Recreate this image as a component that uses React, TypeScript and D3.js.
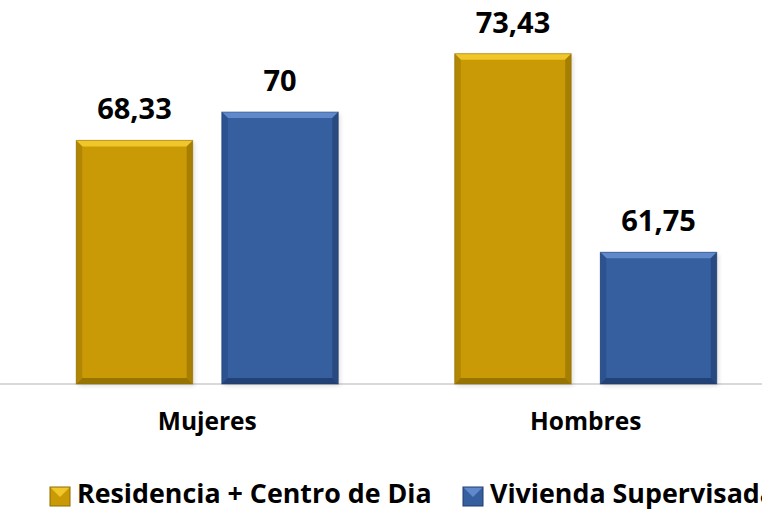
import React from "react";
import { scaleBand, scaleLinear } from "d3";

const categories = ["Mujeres", "Hombres"];
const seriesNames = ["Residencia + Centro de Dia", "Vivienda Supervisada"];
const residencia = [68.33, 73.43];
const vivienda = [70, 61.75];
const valueLabels = [
  ["68,33", "73,43"],
  ["70", "61,75"],
];

const palette = [
  { main: "#C99A05", light: "#F0C62A", dark: "#8E6C00", side: "#B08604" },
  { main: "#365F9F", light: "#5F89CB", dark: "#1F3C6C", side: "#2D5290" },
];

const FONT = "'Open Sans', 'DejaVu Sans', sans-serif";

export default function App() {
  const width = 762;
  const height = 510;
  const baseline = 384;
  const series = [residencia, vivienda];

  const x = scaleBand<string>().domain(categories).range([18, 775]);
  const xInner = scaleBand<number>()
    .domain([0, 1])
    .range([0, x.bandwidth()])
    .paddingInner(0.2)
    .paddingOuter(0.4);
  const y = scaleLinear().domain([54, 76]).range([baseline, 10]);

  const bevel = 6;

  const bar = (cat: string, ci: number, si: number) => {
    const v = series[si][ci];
    const x0 = (x(cat) ?? 0) + (xInner(si) ?? 0);
    const w = xInner.bandwidth();
    const y0 = y(v);
    const x1 = x0 + w;
    const y1 = baseline;
    const c = palette[si];
    const b = bevel;
    return (
      <g key={`${cat}-${si}`}>
        <rect x={x0 + 2} y={y0 + 2} width={w} height={y1 - y0} fill="#000" opacity={0.12} filter="url(#shadow)" />
        <rect x={x0} y={y0} width={w} height={y1 - y0} fill={c.main} />
        <polygon points={`${x0},${y0} ${x1},${y0} ${x1 - b},${y0 + b} ${x0 + b},${y0 + b}`} fill={c.light} />
        <polygon points={`${x0},${y0} ${x0 + b},${y0 + b} ${x0 + b},${y1 - b} ${x0},${y1}`} fill={c.side} />
        <polygon points={`${x1},${y0} ${x1},${y1} ${x1 - b},${y1 - b} ${x1 - b},${y0 + b}`} fill={c.dark} opacity={0.6} />
        <polygon points={`${x0},${y1} ${x0 + b},${y1 - b} ${x1 - b},${y1 - b} ${x1},${y1}`} fill={c.dark} opacity={0.85} />
        <rect x={x0} y={y0} width={w} height={y1 - y0} fill="none" stroke={c.dark} strokeWidth={1} opacity={0.5} />
        <text
          x={x0 + w / 2}
          y={y0 - 21}
          textAnchor="middle"
          fontFamily={FONT}
          fontWeight={700}
          fontSize={29}
          fill="#000"
        >
          {valueLabels[si][ci]}
        </text>
      </g>
    );
  };

  const legendX = [50, 463];

  return (
    <svg width={width} height={height} style={{ position: "absolute", left: 0, top: 0 }}>
      <defs>
        <filter id="shadow" x="-10%" y="-10%" width="120%" height="120%">
          <feGaussianBlur stdDeviation={2} />
        </filter>
      </defs>
      <rect width={width} height={height} fill="#fff" />
      <line x1={0} x2={width} y1={baseline} y2={baseline} stroke="#D9D9D9" strokeWidth={2} />
      {categories.map((cat, ci) => [0, 1].map((si) => bar(cat, ci, si)))}
      {categories.map((cat) => (
        <text
          key={cat}
          x={(x(cat) ?? 0) + x.bandwidth() / 2}
          y={430}
          textAnchor="middle"
          fontFamily={FONT}
          fontWeight={700}
          fontSize={24.5}
          fill="#000"
        >
          {cat}
        </text>
      ))}
      {seriesNames.map((name, si) => {
        const c = palette[si];
        const lx = legendX[si];
        return (
          <g key={name}>
            <rect x={lx} y={487} width={20} height={19} fill={c.main} />
            <polygon points={`${lx},487 ${lx + 20},487 ${lx + 10},497`} fill={c.light} />
            <rect x={lx} y={487} width={20} height={19} fill="none" stroke={c.dark} strokeWidth={1} />
            <text x={lx + 27} y={503} fontFamily={FONT} fontWeight={700} fontSize={26.8} fill="#000">
              {name}
            </text>
          </g>
        );
      })}
    </svg>
  );
}
